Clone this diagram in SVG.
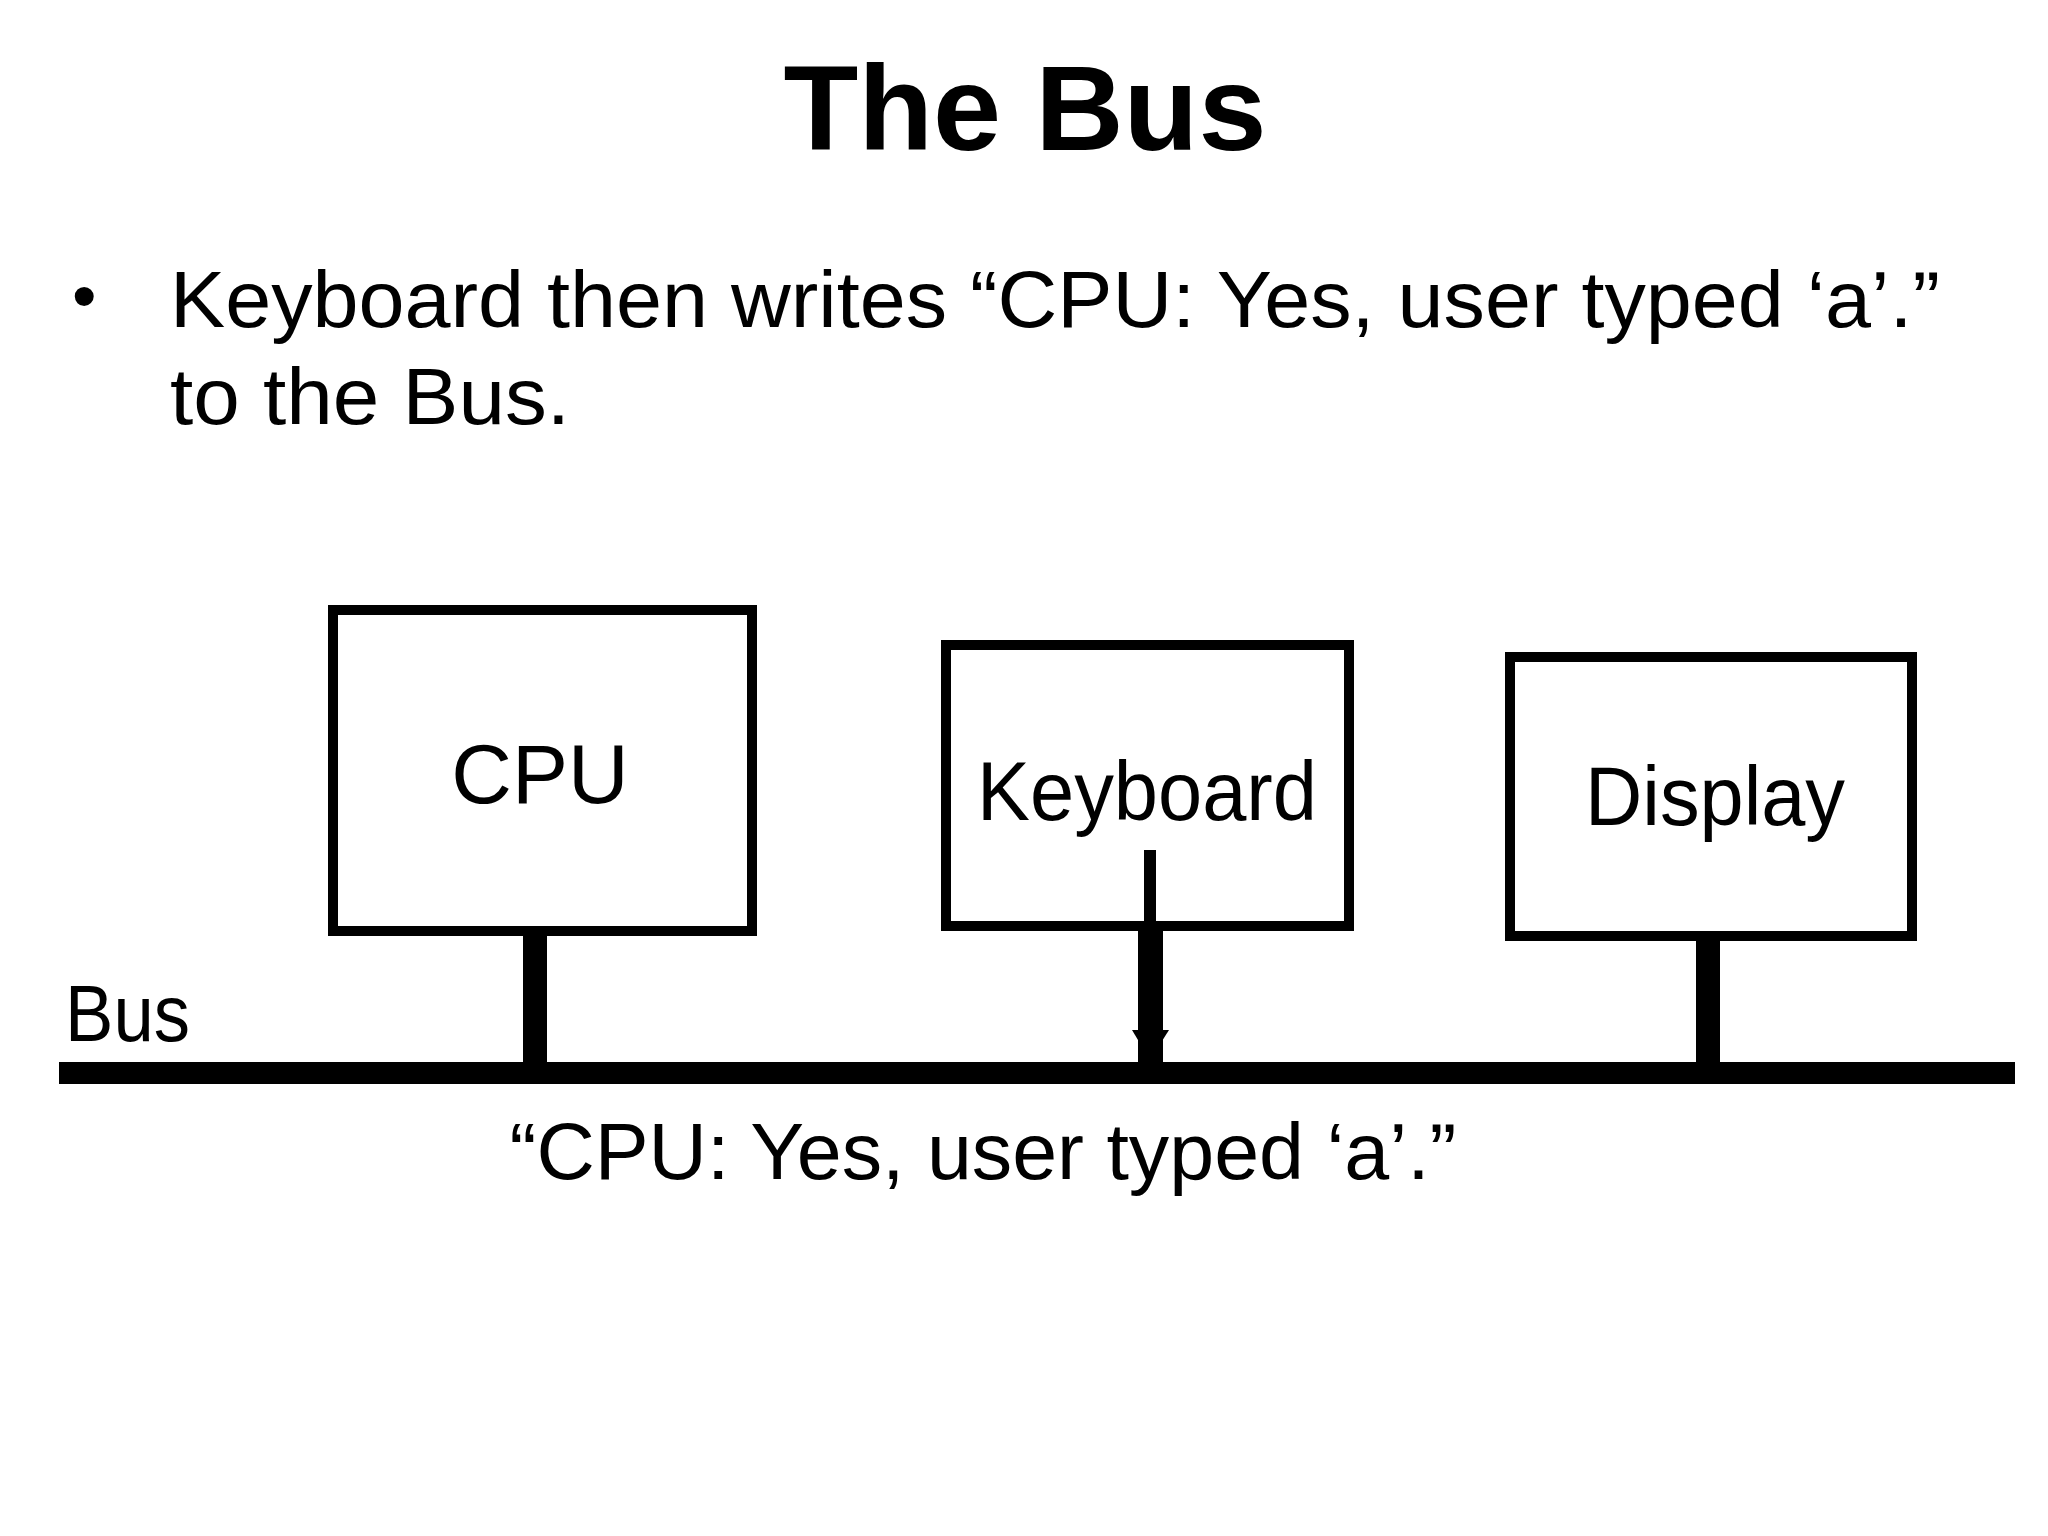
<svg xmlns="http://www.w3.org/2000/svg" width="2048" height="1536" viewBox="0 0 2048 1536">
<style>
text{font-family:"Comic Sans MS","Liberation Sans",sans-serif;fill:#000}
.box{fill:#fff;stroke:#000;stroke-width:10}
.lbl{font-size:84px;text-anchor:middle}
</style>
<rect width="2048" height="1536" fill="#fff"/>
<text x="1025" y="150" font-size="120" font-weight="bold" text-anchor="middle" textLength="483" lengthAdjust="spacingAndGlyphs">The Bus</text>
<text x="72" y="320" font-size="70">•</text>
<text x="170" y="327" font-size="80" textLength="1770" lengthAdjust="spacingAndGlyphs">Keyboard then writes “CPU: Yes, user typed ‘a’.”</text>
<text x="170" y="424" font-size="80" textLength="400" lengthAdjust="spacingAndGlyphs">to the Bus.</text>
<g id="connectors">
<rect x="59" y="1062" width="1956" height="22" fill="#000"/>
<rect x="523" y="931" width="24" height="135" fill="#000"/>
<rect x="1696" y="936" width="24" height="130" fill="#000"/>
<rect x="1144" y="850" width="12" height="80" fill="#000"/>
<rect x="1138" y="926" width="25" height="140" fill="#000"/>
<polygon points="1132,1030 1169,1030 1150,1060" fill="#000"/>
</g>
<g id="cpu"><rect class="box" x="333" y="610" width="419" height="321"/><text class="lbl" x="540" y="803">CPU</text></g>
<g id="keyboard"><rect class="box" x="946" y="645" width="403" height="281"/><text class="lbl" x="1147" y="820" textLength="340" lengthAdjust="spacingAndGlyphs">Keyboard</text></g>
<rect x="1144" y="850" width="12" height="80" fill="#000"/>
<g id="display"><rect class="box" x="1510" y="657" width="402" height="279"/><text class="lbl" x="1715" y="825" textLength="260" lengthAdjust="spacingAndGlyphs">Display</text></g>
<text x="65" y="1041" font-size="80" textLength="125" lengthAdjust="spacingAndGlyphs">Bus</text>
<text x="983" y="1179" font-size="80" text-anchor="middle" textLength="947" lengthAdjust="spacingAndGlyphs">“CPU: Yes, user typed ‘a’.”</text>
</svg>
